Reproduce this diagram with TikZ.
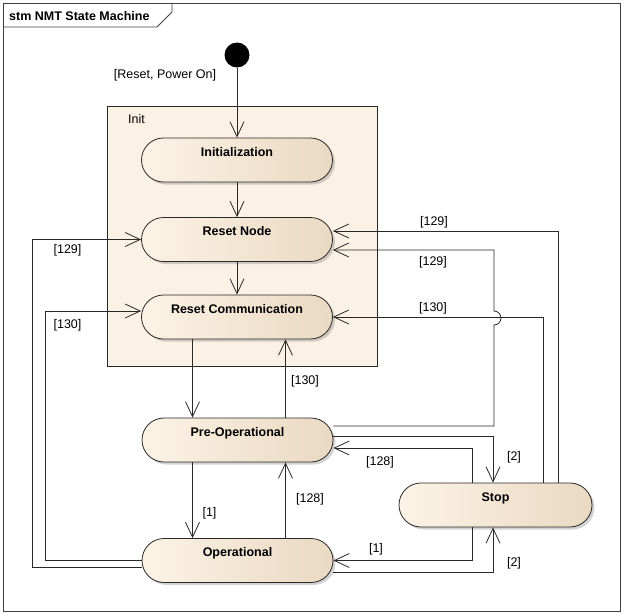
\documentclass[tikz,border=0pt]{standalone}
\usepackage{fontspec}
\setmainfont{Liberation Sans}
\usetikzlibrary{arrows.meta,shadows}
\definecolor{stateL}{RGB}{252,243,230}
\definecolor{stateR}{RGB}{234,217,194}
\definecolor{initfill}{RGB}{251,241,228}
\definecolor{linec}{RGB}{40,40,40}
\begin{document}
\begin{tikzpicture}[x=1pt,y=-1pt,
  every node/.style={font=\fontsize{12.5}{15}\selectfont},
  state/.style={draw=linec, line width=0.8pt, rounded corners=22pt,
    minimum width=191pt, minimum height=44pt, inner sep=0pt,
    left color=stateL, right color=stateR,
    drop shadow={shadow xshift=2.5pt,shadow yshift=-2.5pt,opacity=0.35},
    text height=9pt, text depth=17pt,
    font=\fontsize{12.5}{15}\selectfont\bfseries},
  conn/.style={draw=linec, line width=0.8pt, -{Straight Barb[length=15pt,width=14pt]}},
  lbl/.style={inner sep=0pt, text=black}
]
\useasboundingbox (0,0) rectangle (625,616);
% frame
\draw[black!75, line width=0.8pt] (3.5,3.5) rectangle (620.5,611);
\draw[black!75, line width=0.8pt] (3.5,27) -- (157,27) -- (172,12) -- (172,3.5);
\node[anchor=west, inner sep=0pt, font=\fontsize{12.5}{15}\selectfont\bfseries] (title) at (9,16) {stm NMT State Machine};
% initial
\node[circle, fill=black, minimum size=25pt, inner sep=0pt] (start) at (237,55) {};
% composite
\node[draw=linec, fill=initfill, line width=0.8pt, minimum width=270pt, minimum height=260pt, inner sep=0pt] (init) at (242,236) {};
\node[lbl, anchor=west] (initlbl) at (128,119) {Init};
% states
\node[state] (ini) at (237,160) {Initialization};
\node[state] (rn) at (237,239.5) {Reset Node};
\node[state] (rc) at (237,317) {Reset Communication};
\node[state] (po) at (237.5,440) {Pre-Operational};
\node[state] (op) at (237.5,560.5) {Operational};
\node[state, minimum width=193pt] (st) at (495.5,505) {Stop};
% helper columns
\coordinate (cA) at (192.5,0);
\coordinate (cB) at (285.5,0);
\coordinate (cC) at (558,0);
\coordinate (cD) at (543,0);
\coordinate (cE) at (493,0);
\coordinate (cF) at (472,0);
% connectors
\draw[conn] (start) -- (start |- ini.north);
\draw[conn] (ini.south) -- (rn.north);
\draw[conn] (rn.south) -- (rc.north);
\draw[conn] (rc.south -| cA) -- (po.north -| cA);
\draw[conn] (po.north -| cB) -- (rc.south -| cB);
\draw[conn] (po.south -| cA) -- (op.north -| cA);
\draw[conn] (op.north -| cB) -- (po.south -| cB);
\draw[conn] ([yshift=-6.5pt]op.west) -| (32,239.5) -- (rn.west);
\draw[conn] (op.west) -| (45,311) -- ([yshift=6pt]rc.west);
\draw[conn] (st.north -| cC) |- ([yshift=8.5pt]rn.east);
\draw[conn] ([yshift=14pt]po.east) -| (494,325) arc[start angle=90,end angle=-90,radius=7] |- ([yshift=-10.5pt]rn.east);
\draw[conn] (st.north -| cD) |- (rc.east);
\draw[conn] ([yshift=4pt]po.east) -| (st.north -| cE);
\draw[conn] (st.north -| cF) |- ([yshift=-8pt]po.east);
\draw[conn] (st.south -| cF) |- (op.east);
\draw[conn] ([yshift=-11.5pt]op.east) -| (st.south -| cE);
% labels
\node[lbl] (l1) at (165,75) {[Reset, Power On]};
\node[lbl] (l2) at (434,222) {[129]};
\node[lbl] (l3) at (433,262) {[129]};
\node[lbl] (l4) at (433,308) {[130]};
\node[lbl] (l5) at (67.5,250) {[129]};
\node[lbl] (l6) at (67.5,325) {[130]};
\node[lbl] (l7) at (305,381) {[130]};
\node[lbl] (l8) at (209.5,513) {[1]};
\node[lbl] (l9) at (310,499) {[128]};
\node[lbl] (l10) at (514,457) {[2]};
\node[lbl] (l11) at (380,462) {[128]};
\node[lbl] (l12) at (376,549) {[1]};
\node[lbl] (l13) at (514,563) {[2]};
\end{tikzpicture}
\end{document}
